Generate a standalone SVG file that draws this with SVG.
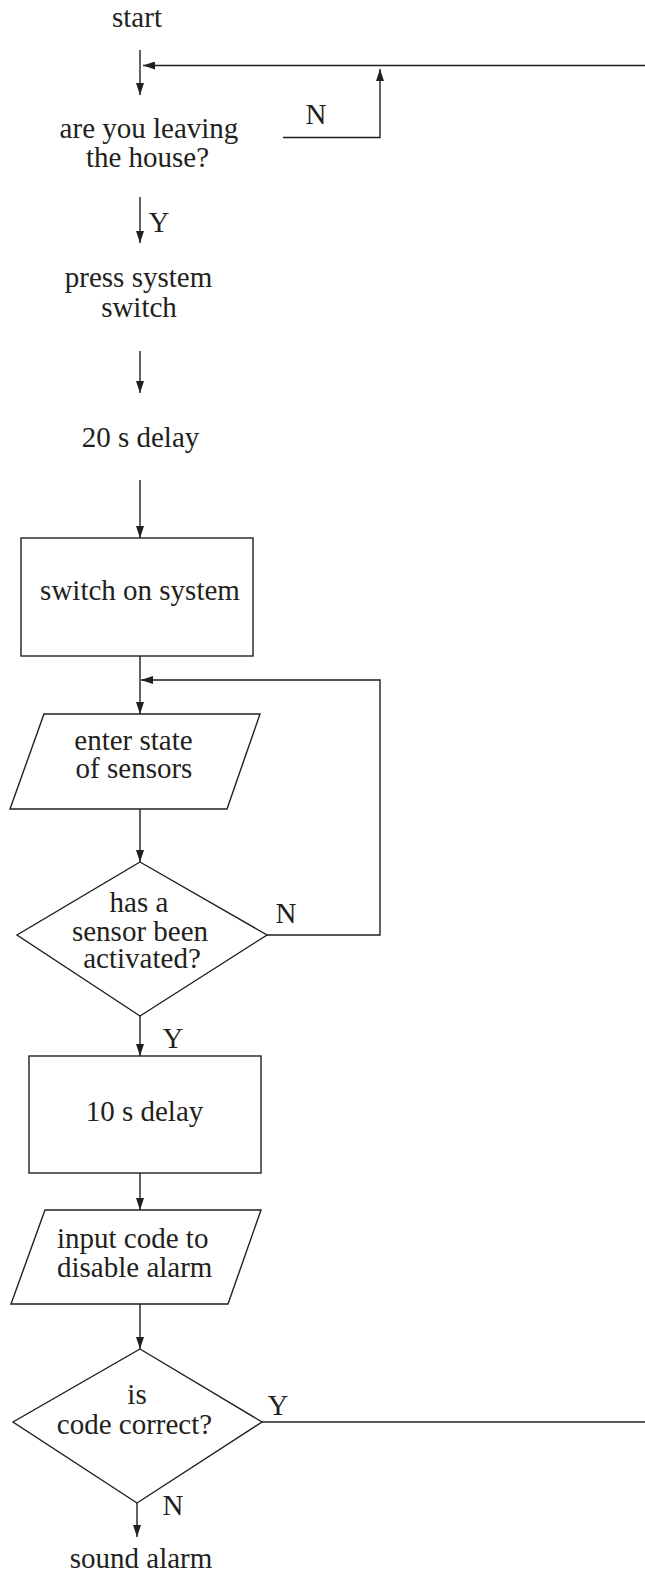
<svg xmlns="http://www.w3.org/2000/svg" width="645" height="1575" viewBox="0 0 645 1575">
<style>
text{font-family:"Liberation Serif","Times New Roman",serif;font-size:29px;fill:#231f20;text-anchor:middle}
.s{text-anchor:start}
.ln{fill:none;stroke:#231f20;stroke-width:1.4}
.sh{fill:#fff;stroke:#231f20;stroke-width:1.4}
</style>
<defs>
<marker id="ah" markerUnits="userSpaceOnUse" markerWidth="12" markerHeight="8" refX="12" refY="4" orient="auto">
<path d="M0,0 L12,4 L0,8 z" fill="#231f20"/>
</marker>
</defs>
<rect width="645" height="1575" fill="#fff"/>
<g id="connectors">
<line class="ln" x1="140" y1="50" x2="140" y2="95" marker-end="url(#ah)"/>
<line class="ln" x1="645" y1="65.5" x2="143" y2="65.5" marker-end="url(#ah)"/>
<polyline class="ln" points="283,137.5 380,137.5 380,69" marker-end="url(#ah)"/>
<line class="ln" x1="140" y1="197" x2="140" y2="243" marker-end="url(#ah)"/>
<line class="ln" x1="140" y1="351" x2="140" y2="393" marker-end="url(#ah)"/>
<line class="ln" x1="140" y1="480" x2="140" y2="538" marker-end="url(#ah)"/>
<line class="ln" x1="140" y1="656" x2="140" y2="714" marker-end="url(#ah)"/>
<polyline class="ln" points="267,935 380,935 380,680 141,680" marker-end="url(#ah)"/>
<line class="ln" x1="140" y1="809" x2="140" y2="862" marker-end="url(#ah)"/>
<line class="ln" x1="140" y1="1016" x2="140" y2="1056" marker-end="url(#ah)"/>
<line class="ln" x1="140" y1="1173" x2="140" y2="1210" marker-end="url(#ah)"/>
<line class="ln" x1="140" y1="1304" x2="140" y2="1349" marker-end="url(#ah)"/>
<line class="ln" x1="262" y1="1422" x2="645" y2="1422"/>
<line class="ln" x1="137" y1="1503" x2="137" y2="1537" marker-end="url(#ah)"/>
<text x="316" y="124">N</text>
<text x="159" y="232">Y</text>
<text x="286" y="923">N</text>
<text x="173" y="1048">Y</text>
<text x="278" y="1415">Y</text>
<text x="173" y="1515">N</text>
</g>
<g id="start"><text x="137" y="27">start</text></g>
<g id="leaving"><text x="149" y="138">are you leaving</text><text x="147.5" y="167">the house?</text></g>
<g id="press"><text x="138.5" y="287">press system</text><text x="139" y="317">switch</text></g>
<g id="delay20"><text x="140.5" y="447">20 s delay</text></g>
<g id="switchon"><rect class="sh" x="21" y="538" width="232" height="118"/><text x="140" y="600">switch on system</text></g>
<g id="enterstate"><polygon class="sh" points="44,714 260,714 227,809 10,809"/><text x="133.5" y="750">enter state</text><text x="134" y="778">of sensors</text></g>
<g id="sensor"><polygon class="sh" points="140,862 267,935 140,1016 17,935"/><text x="139" y="912">has a</text><text x="140" y="941">sensor been</text><text x="142" y="968">activated?</text></g>
<g id="delay10"><rect class="sh" x="29" y="1056" width="232" height="117"/><text x="144.5" y="1121">10 s delay</text></g>
<g id="inputcode"><polygon class="sh" points="45,1210 261,1210 228,1304 11,1304"/><text class="s" x="57" y="1248">input code to</text><text class="s" x="57" y="1277">disable alarm</text></g>
<g id="codecorrect"><polygon class="sh" points="140,1349 262,1422 137,1503 13,1422"/><text x="137" y="1404">is</text><text x="134.5" y="1434">code correct?</text></g>
<g id="sound"><text x="141" y="1568">sound alarm</text></g>
</svg>
